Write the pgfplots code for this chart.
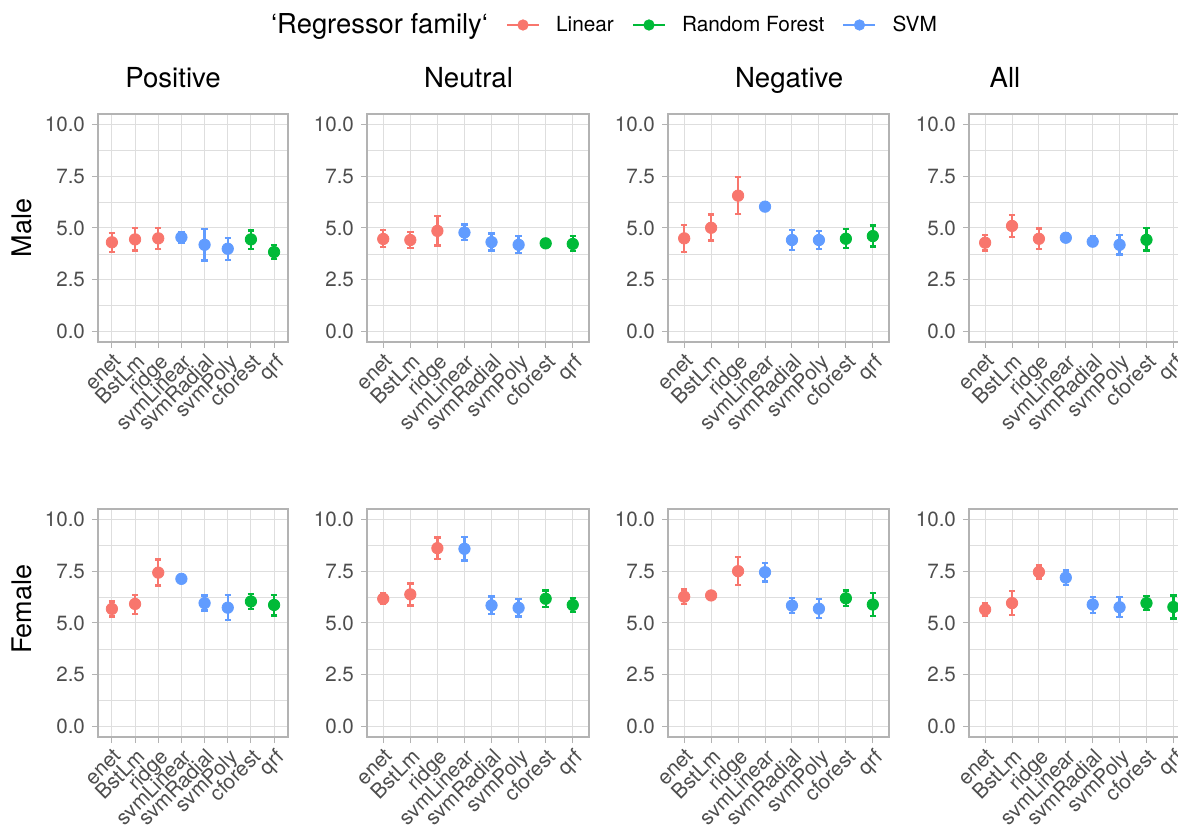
\documentclass[border=0pt]{standalone}
\usepackage{pgfplots}
\pgfplotsset{compat=1.18}
\usepackage{pgfplotstable}
\usepackage{fontspec}
\setmainfont{TeX Gyre Heros}
\definecolor{linC}{HTML}{F8766D}
\definecolor{rfC}{HTML}{00BA38}
\definecolor{svmC}{HTML}{619CFF}
\definecolor{gridC}{HTML}{DEDEDE}
\definecolor{borderC}{HTML}{B3B3B3}
\definecolor{tickC}{HTML}{4D4D4D}

\pgfplotstableread{
x y lo hi
1 4.31 3.84 4.77
2 4.45 3.92 4.99
3 4.50 3.99 5.01
4 4.55 4.26 4.82
5 4.19 3.43 4.96
6 4.00 3.46 4.53
7 4.45 3.99 4.88
8 3.84 3.51 4.18
}\tMP
\pgfplotstableread{
x y lo hi
1 4.47 4.07 4.90
2 4.42 4.03 4.80
3 4.86 4.16 5.57
4 4.78 4.43 5.17
5 4.32 3.91 4.74
6 4.19 3.78 4.61
7 4.26 4.08 4.42
8 4.23 3.88 4.61
}\tMU
\pgfplotstableread{
x y lo hi
1 4.50 3.84 5.14
2 5.01 4.39 5.65
3 6.56 5.66 7.45
4 6.03 5.95 6.11
5 4.42 3.94 4.90
6 4.42 3.97 4.86
7 4.48 4.03 4.94
8 4.61 4.10 5.12
}\tMN
\pgfplotstableread{
x y lo hi
1 4.29 3.91 4.67
2 5.10 4.56 5.63
3 4.48 3.97 4.98
4 4.53 4.31 4.77
5 4.34 4.13 4.61
6 4.19 3.72 4.67
7 4.43 3.91 4.99
}\tMA
\pgfplotstableread{
x y lo hi
1 5.68 5.31 6.04
2 5.92 5.45 6.36
3 7.43 6.81 8.07
4 7.13 7.03 7.23
5 5.96 5.60 6.33
6 5.74 5.15 6.35
7 6.04 5.68 6.40
8 5.87 5.36 6.36
}\tFP
\pgfplotstableread{
x y lo hi
1 6.17 5.93 6.43
2 6.38 5.84 6.91
3 8.61 8.09 9.12
4 8.58 8.01 9.14
5 5.85 5.42 6.28
6 5.73 5.31 6.16
7 6.17 5.77 6.57
8 5.87 5.52 6.19
}\tFU
\pgfplotstableread{
x y lo hi
1 6.27 5.90 6.62
2 6.33 6.16 6.49
3 7.50 6.83 8.17
4 7.45 7.00 7.89
5 5.84 5.47 6.20
6 5.69 5.23 6.16
7 6.19 5.82 6.57
8 5.89 5.34 6.44
}\tFN
\pgfplotstableread{
x y lo hi
1 5.65 5.33 5.96
2 5.96 5.37 6.56
3 7.46 7.15 7.77
4 7.19 6.83 7.54
5 5.89 5.49 6.27
6 5.76 5.28 6.24
7 5.96 5.63 6.30
8 5.77 5.22 6.33
}\tFA

\pgfplotsset{
  pan/.style={
    scale only axis, height=114pt, anchor=south west,
    xmin=0.4, xmax=8.6, ymin=-0.5, ymax=10.5,
    xtick={1,...,8},
    xticklabels={enet,BstLm,ridge,svmLinear,svmRadial,svmPoly,cforest,qrf},
    ytick={0,2.5,5,7.5,10},
    minor ytick={1.25,3.75,6.25,8.75},
    grid=both,
    major grid style={gridC, line width=0.5pt},
    minor grid style={gridC, line width=0.35pt},
    axis line style={borderC, line width=0.6pt},
    tick align=outside, tick pos=left,
    major tick length=3pt, minor tick length=0pt,
    tick style={borderC, line width=0.5pt},
    /pgf/number format/assume math mode=true,
    yticklabel style={font=\fontsize{10.3}{12}\selectfont, text=tickC,
      /pgf/number format/.cd, fixed, fixed zerofill, precision=1},
    xticklabel style={font=\fontsize{10.4}{12}\selectfont, text=tickC,
      rotate=45, anchor=north east, inner sep=1.5pt},
    ylabel style={font=\fontsize{13.5}{16}\selectfont},
    title style={font=\fontsize{13.8}{16}\selectfont, anchor=base, yshift=7pt},
  },
  pr/.style={only marks, mark=*, mark size=2.85pt, color=#1,
    mark options={draw=none, fill=#1},
    error bars/.cd, y dir=both, y explicit,
    error bar style={line width=1.15pt, color=#1},
    error mark options={rotate=90, line width=1.15pt, color=#1, mark size=1.6pt}},
}

\newcommand\panel[5]{%
\begin{axis}[pan, at={(#1,#2)}, width=#3, #5]
 \addplot[restrict x to domain=1:3, pr=linC] table[x=x, y=y,
   y error plus expr=\thisrow{hi}-\thisrow{y}, y error minus expr=\thisrow{y}-\thisrow{lo}] {#4};
 \addplot[restrict x to domain=4:6, pr=svmC] table[x=x, y=y,
   y error plus expr=\thisrow{hi}-\thisrow{y}, y error minus expr=\thisrow{y}-\thisrow{lo}] {#4};
 \addplot[restrict x to domain=7:8, pr=rfC] table[x=x, y=y,
   y error plus expr=\thisrow{hi}-\thisrow{y}, y error minus expr=\thisrow{y}-\thisrow{lo}] {#4};
\end{axis}}

\begin{document}
\begin{tikzpicture}
\useasboundingbox (0,0) rectangle (589pt,415pt);
\clip (0,0) rectangle (589pt,415pt);

% Row 1: Male
\panel{49pt}{244pt}{95pt}{\tMP}{title=Positive, title style={at={(axis description cs:0.395,1)}},
  ylabel=Male, ylabel style={at={(axis description cs:-0.40,0.5)}, anchor=center}}
\panel{183.5pt}{244pt}{111pt}{\tMU}{title=Neutral, title style={at={(axis description cs:0.457,1)}}}
\panel{334pt}{244pt}{110.5pt}{\tMN}{title=Negative, title style={at={(axis description cs:0.548,1)}}}
\panel{484.5pt}{244pt}{110.25pt}{\tMA}{title=All, title style={at={(axis description cs:0.163,1)}}}

% Row 2: Female
\panel{49pt}{46.5pt}{95pt}{\tFP}{ylabel=Female, ylabel style={at={(axis description cs:-0.40,0.56)}, anchor=center}}
\panel{183.5pt}{46.5pt}{111pt}{\tFU}{}
\panel{334pt}{46.5pt}{110.5pt}{\tFN}{}
\panel{484.5pt}{46.5pt}{110.25pt}{\tFA}{}

% Legend
\begin{axis}[hide axis, scale only axis, width=1pt, height=1pt,
  at={(298pt,402.5pt)}, anchor=center,
  xmin=0, xmax=1, ymin=0, ymax=1,
  legend columns=4,
  legend style={at={(0.5,0.5)}, anchor=center, draw=none, fill=none,
    inner sep=0pt, font=\fontsize{10.4}{12}\selectfont,
    nodes={inner sep=0pt},
    /tikz/every odd column/.append style={column sep=8pt},
    /tikz/every even column/.append style={column sep=9pt}}]
\addlegendimage{empty legend}
\addlegendentry{\fontsize{13.7}{15}\selectfont ‘Regressor family‘\hspace{3pt}}
\addlegendimage{legend image code/.code={\draw[linC, line width=1.1pt] (0pt,0pt) -- (16pt,0pt); \fill[linC] (8pt,0pt) circle (2.6pt);}}
\addlegendentry{Linear}
\addlegendimage{legend image code/.code={\draw[rfC, line width=1.1pt] (0pt,0pt) -- (16pt,0pt); \fill[rfC] (8pt,0pt) circle (2.6pt);}}
\addlegendentry{Random Forest}
\addlegendimage{legend image code/.code={\draw[svmC, line width=1.1pt] (0pt,0pt) -- (16pt,0pt); \fill[svmC] (8pt,0pt) circle (2.6pt);}}
\addlegendentry{SVM}
\end{axis}
\end{tikzpicture}
\end{document}
